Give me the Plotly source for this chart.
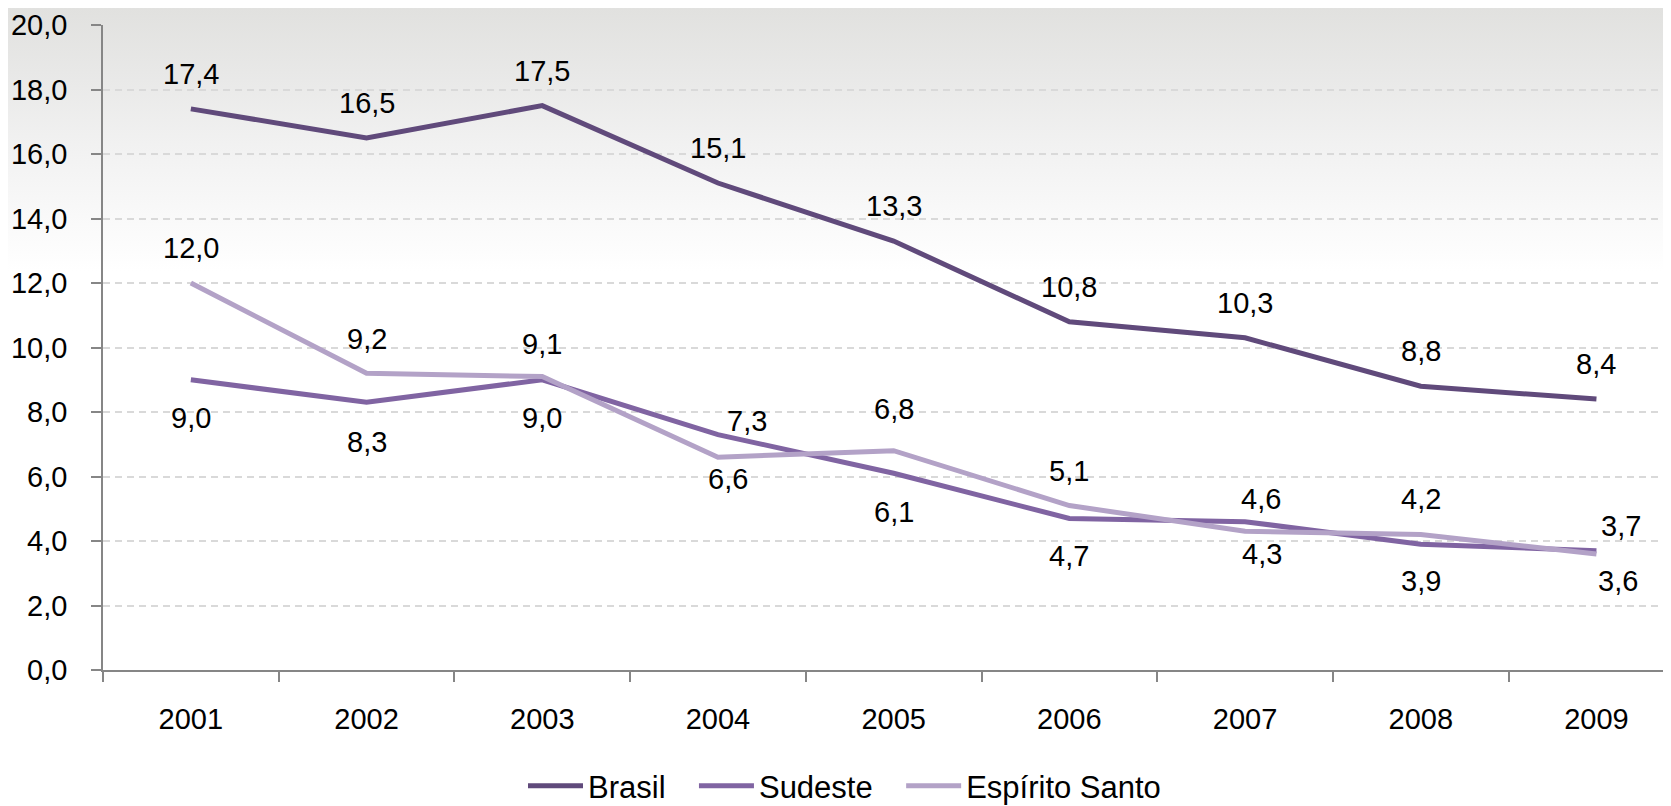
import base64
import plotly.graph_objects as go

years = ["2001", "2002", "2003", "2004", "2005", "2006", "2007", "2008", "2009"]
brasil = [17.4, 16.5, 17.5, 15.1, 13.3, 10.8, 10.3, 8.8, 8.4]
sudeste = [9.0, 8.3, 9.0, 7.3, 6.1, 4.7, 4.6, 3.9, 3.7]
espirito_santo = [12.0, 9.2, 9.1, 6.6, 6.8, 5.1, 4.3, 4.2, 3.6]
y_ticks = [0, 2, 4, 6, 8, 10, 12, 14, 16, 18, 20]

names = ["Brasil", "Sudeste", "Espírito Santo"]
colors = ["#604A7B", "#8064A2", "#B3A2C7"]
legend_pad = ["\u00a0\u00a0\u2009", "\u00a0\u00a0\u2009", ""]

# label offsets (pixels) – style only
brasil_yshift = [35] * 9
brasil_xshift = [0] * 9
sudeste_yshift = [-38, -40, -38, 14, -39, -38, 23, -37, 25]
sudeste_xshift = [0, 0, 0, 29, 0, 0, 16, 0, 25]
es_yshift = [35, 34, 33, -22, 42, 35, -23, 36, -27]
es_xshift = [0, 0, 0, 10, 0, 0, 17, 0, 22]

# page body has an 8px default margin; figure is sized to fit the window
BODY = 8
W, H = 1671 - BODY, 806 - BODY
ML, MR, MT, MB = 103 - BODY, 0, 25 - BODY, 136
cat_w = 175.7
pw = W - ML - MR
ph = H - MT - MB
x_end = pw / cat_w - 0.5

FONT = "Liberation Sans, Arial, sans-serif"

fig = go.Figure()
series = [brasil, sudeste, espirito_santo]
for name, pad, vals, col in zip(names, legend_pad, series, colors):
    fig.add_trace(go.Scatter(
        x=years, y=vals, name=name + pad, mode="lines",
        line=dict(color=col, width=5),
        hoverinfo="skip",
    ))

annotations = []
for vals, ys, xs in [(brasil, brasil_yshift, brasil_xshift),
                     (sudeste, sudeste_yshift, sudeste_xshift),
                     (espirito_santo, es_yshift, es_xshift)]:
    for i, (v, dy, dx) in enumerate(zip(vals, ys, xs)):
        annotations.append(dict(
            x=i, y=v, xref="x", yref="y", text=f"{v:.1f}".replace(".", ","),
            showarrow=False, yshift=dy, xshift=dx,
            xanchor="center", yanchor="middle",
            font=dict(family=FONT, size=29, color="#000000"),
        ))

svg = f'''<svg xmlns="http://www.w3.org/2000/svg" width="{W}" height="{H}" viewBox="0 0 {W} {H}" preserveAspectRatio="none">
<defs><linearGradient id="g" x1="0" y1="0" x2="0" y2="1">
<stop offset="0" stop-color="#e1e1df"/>
<stop offset="0.08" stop-color="#e8e8e7"/>
<stop offset="0.17" stop-color="#f1f1f1"/>
<stop offset="0.26" stop-color="#f9f9f9"/>
<stop offset="0.33" stop-color="#ffffff"/>
<stop offset="1" stop-color="#ffffff"/>
</linearGradient></defs>
<rect x="0" y="0" width="{W}" height="{H}" fill="url(#g)"/>
</svg>'''
src = "data:image/svg+xml;base64," + base64.b64encode(svg.encode()).decode()

fig.update_layout(
    width=W, height=H,
    margin=dict(l=ML, r=MR, t=MT, b=MB, pad=0, autoexpand=False),
    paper_bgcolor="#ffffff",
    plot_bgcolor="rgba(0,0,0,0)",
    separators=",.",
    font=dict(family=FONT, size=29, color="#000000"),
    showlegend=True,
    legend=dict(
        orientation="h", xref="container", yref="container",
        x=(523 - BODY) / W, y=1 - (786 - BODY) / H, xanchor="left", yanchor="middle",
        font=dict(family=FONT, size=31, color="#000000"),
        bgcolor="rgba(0,0,0,0)", itemwidth=55, tracegroupgap=0,
    ),
    annotations=annotations,
    images=[dict(
        source=src, xref="paper", yref="paper",
        x=-ML / pw, y=1 + MT / ph, sizex=W / pw, sizey=H / ph,
        xanchor="left", yanchor="top", sizing="stretch", layer="below",
    )],
    xaxis=dict(
        type="category", range=[-0.5, x_end],
        showgrid=False, zeroline=False,
        showline=True, linecolor="#868686", linewidth=1.5,
        ticks="outside", tickson="boundaries", ticklen=10,
        tickcolor="#868686", tickwidth=1.5,
        tickfont=dict(family=FONT, size=29, color="#000000"),
        ticklabelstandoff=22,
    ),
    yaxis=dict(
        range=[0, 20], tickvals=y_ticks, tickformat=".1f",
        showgrid=True, gridcolor="#d9d9d9", gridwidth=1.5, griddash="7px,5px",
        zeroline=False,
        showline=True, linecolor="#868686", linewidth=1.5,
        ticks="outside", ticklen=10, tickcolor="#868686", tickwidth=1.5,
        tickfont=dict(family=FONT, size=29, color="#000000"),
        ticklabelstandoff=18,
    ),
)

fig.write_html("out.html")
